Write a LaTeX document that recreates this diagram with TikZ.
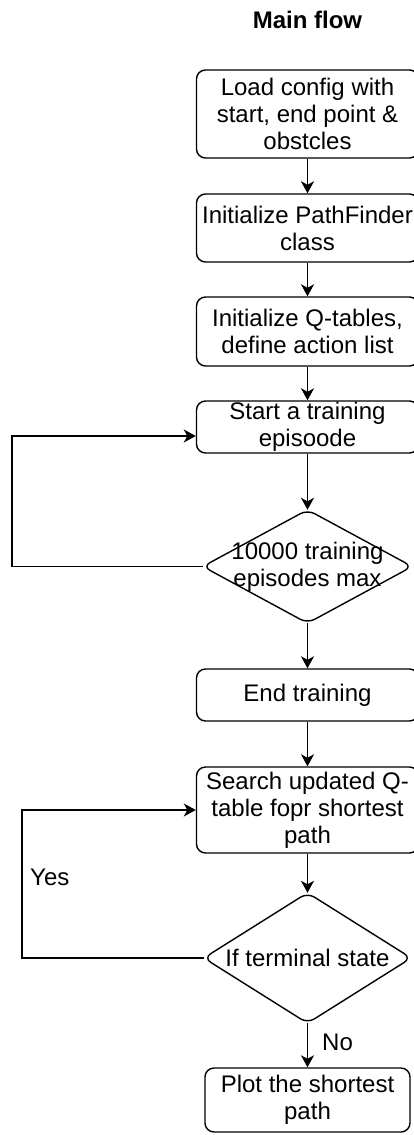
\documentclass[tikz,border=0pt]{standalone}
\usepackage{fontspec}
\setmainfont{Liberation Sans}
\usetikzlibrary{arrows.meta}
\begin{document}
\begin{tikzpicture}[x=1pt,y=-1pt,
  every node/.style={font=\fontsize{24}{27}\selectfont, text=black},
  proc/.style={draw, rounded corners=9pt, line width=1.4pt, minimum width=222pt,
    align=center, inner sep=0pt},
  decision/.style={minimum width=209pt, inner sep=0pt, align=center},
  outline/.style={line width=1.4pt, rounded corners=8pt},
  flow/.style={line width=1.6pt, -{Stealth[length=12pt,width=13pt,inset=3.5pt]}},
  tag/.style={anchor=west, inner sep=0pt}]
\useasboundingbox (0,0) rectangle (413,1135);

% title
\node[font=\fontsize{24}{27}\selectfont\bfseries] (title) at (307.5,20) {Main flow};

% training phase
\node[proc, minimum height=88pt] (load) at (307.5,114) {Load config with\\start, end point \&\\obstcles};
\node[proc, minimum height=68pt] (init) at (307.5,228) {Initialize PathFinder\\class};
\node[proc, minimum height=69pt] (qtab) at (307.5,331.5) {Initialize Q-tables,\\define action list};
\node[proc, minimum height=52pt] (episode) at (307.5,427) {Start a training\\episoode};
\node[decision, minimum height=113pt] (maxep) at (307.5,566.5) {10000 training\\episodes max};
\draw[outline] (maxep.north) -- (maxep.east) -- (maxep.south) -- (maxep.west) -- cycle;

% search phase
\node[proc, minimum height=52pt] (endtr) at (307.5,695) {End training};
\node[proc, minimum height=86pt] (search) at (307.5,810) {Search updated Q-\\table fopr shortest\\path};
\node[decision, minimum width=207pt, minimum height=130pt] (term) at (307.5,958) {If terminal state};
\draw[outline] (term.north) -- (term.east) -- (term.south) -- (term.west) -- cycle;
\node[proc, minimum width=205pt, minimum height=64pt] (plot) at (307.5,1100) {Plot the shortest\\path};

% main sequence
\draw[flow] (load) -- (init);
\draw[flow] (init) -- (qtab);
\draw[flow] (qtab) -- (episode);
\draw[flow] (episode) -- (maxep.north);
\draw[flow] (maxep.south) -- (endtr);
\draw[flow] (endtr) -- (search);
\draw[flow] (search) -- (term.north);
\draw[flow] (term.south) -- (plot);

% loop back to a new episode
\coordinate (loopA) at (12,566.5);
\coordinate (loopB) at (12,436);
\draw[flow] (maxep.west) -- (loopA) -- (loopB) -- (episode.west |- loopB);

% loop back while not terminal
\coordinate (loopC) at (22,958);
\coordinate (loopD) at (22,810);
\draw[flow] (term.west) -- (loopC) -- (loopD) -- (search.west);

% branch labels
\node[tag] (yes) at (30,877) {Yes};
\node[tag] (no) at (322,1042) {No};
\end{tikzpicture}
\end{document}
